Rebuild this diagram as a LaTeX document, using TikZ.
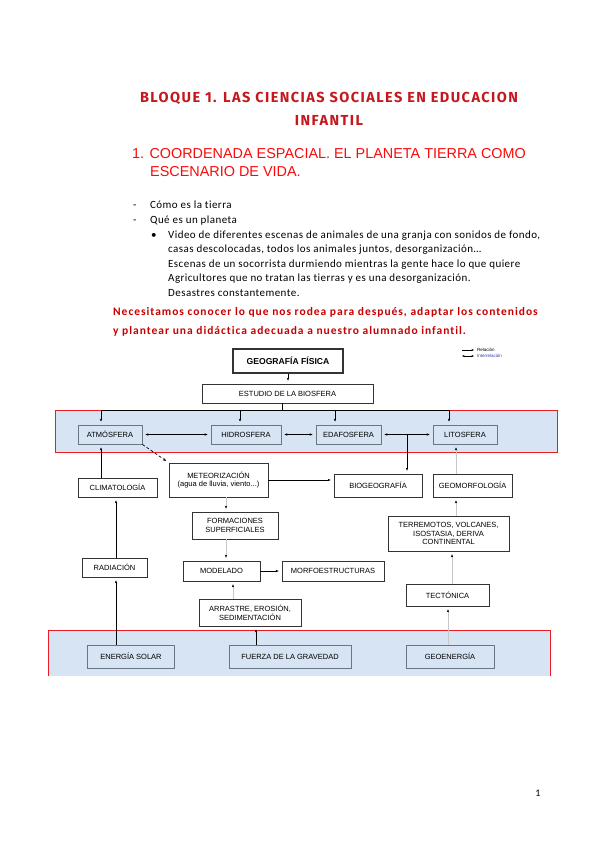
\documentclass[tikz,border=0pt]{standalone}
\usepackage{fontspec}
\setmainfont{Carlito}
\newfontfamily\bodyfont{Carlito}[LetterSpace=4,Ligatures=NoCommon]
\newfontfamily\notefont{Carlito}[LetterSpace=8.5,Ligatures=NoCommon]
\newfontfamily\titlefont{Fira Sans}[LetterSpace=10]
\newfontfamily\headfont{Liberation Sans}
\newfontfamily\diagfont{Liberation Sans}
\usetikzlibrary{arrows.meta,calc}
\definecolor{titlered}{RGB}{196,24,30}
\definecolor{headred}{RGB}{250,10,10}
\definecolor{notered}{RGB}{200,0,0}
\definecolor{bandblue}{RGB}{214,228,243}
\definecolor{bandred}{RGB}{236,28,36}
\definecolor{boxgray}{RGB}{105,118,132}
\definecolor{legblue}{RGB}{40,60,160}
\tikzset{
  box/.style={draw=black!80,line width=.7pt,fill=white,inner sep=1pt,align=center,
    font=\diagfont\fontsize{7.5}{8.6}\selectfont},
  bandbox/.style={box,draw=boxgray,fill=bandblue,line width=.8pt},
  rel/.style={-{Stealth[length=3pt,width=2.4pt]},line width=.7pt,shorten >=3pt},
  irel/.style={{Stealth[length=3pt,width=2.4pt]}-{Stealth[length=3pt,width=2.4pt]},line width=.7pt,shorten >=3pt,shorten <=3pt},
  grel/.style={-{Stealth[length=3pt,width=2.4pt,color=black]},draw=black!22,line width=.7pt,shorten >=3pt},
  band/.style={fill=bandblue},
  bandline/.style={draw=bandred,line width=1pt},
  body/.style={anchor=base west,inner sep=0,font=\bodyfont\fontsize{11}{13}\selectfont},
  note/.style={notered,anchor=base west,inner sep=0,font=\notefont\bfseries\fontsize{11.5}{13}\selectfont},
  head/.style={headred,anchor=base west,inner sep=0,font=\headfont\fontsize{14.4}{16}\selectfont},
  tit/.style={titlered,font=\titlefont\bfseries\fontsize{14.5}{17}\selectfont},
}
\begin{document}
\begin{tikzpicture}[x=1pt,y=-1pt]
\useasboundingbox[fill=white] (0,0) rectangle (599,848);
% texto
\node[tit] (tit1) at (329,98) {BLOQUE 1. LAS CIENCIAS SOCIALES EN EDUCACION};
\node[tit] (tit2) at (329,120) {INFANTIL};
\node[head] (sec1) at (132,158) {1. COORDENADA ESPACIAL. EL PLANETA TIERRA COMO};
\node[head] (sec2) at (150,176) {ESCENARIO DE VIDA.};
\node[body] (d1) at (133,208) {-};
\node[body] (l1) at (150,208) {Cómo es la tierra};
\node[body] (d2) at (133,223) {-};
\node[body] (l2) at (150,223) {Qué es un planeta};
\node[body] (bul) at (151,238) {•};
\node[body] (v1) at (168,238) {Video de diferentes escenas de animales de una granja con sonidos de fondo,};
\node[body] (v2) at (168,252.5) {casas descolocadas, todos los animales juntos, desorganización…};
\node[body] (v3) at (168,267) {Escenas de un socorrista durmiendo mientras la gente hace lo que quiere};
\node[body] (v4) at (168,281.5) {Agricultores que no tratan las tierras y es una desorganización.};
\node[body] (v5) at (168,296) {Desastres constantemente.};
\node[note] (n1) at (113,315) {Necesitamos conocer lo que nos rodea para después, adaptar los contenidos};
\node[note] (n2) at (113,334) {y plantear una didáctica adecuada a nuestro alumnado infantil.};
\node[font=\fontsize{10}{12}\selectfont] (pag) at (538,793) {1};
% franjas
\fill[band] (55,410) rectangle (557,452);
\draw[bandline] (55,410) rectangle (557,452);
\fill[band] (48,630) rectangle (550,676);
\draw[bandline] (48,676) -- (48,630) -- (550,630) -- (550,676);
% leyenda
\coordinate (lg1a) at (462,350); \coordinate (lg1b) at (474,350);
\coordinate (lg2a) at (462,356); \coordinate (lg2b) at (474,356);
\draw[-{Stealth[length=2.5pt,width=2pt]},line width=.6pt] (lg1a) -- (lg1b);
\draw[{Stealth[length=2.5pt,width=2pt]}-{Stealth[length=2.5pt,width=2pt]},line width=.6pt] (lg2a) -- (lg2b);
\node[anchor=west,inner sep=1pt,font=\diagfont\fontsize{4.5}{5}\selectfont] (lgr) at (476,349.5) {Relación};
\node[anchor=west,inner sep=1pt,text=legblue,font=\diagfont\fontsize{4.5}{5}\selectfont] (lgi) at (476,356) {Interrelación};
% cajas
\node[box,line width=1.1pt,minimum width=110,minimum height=24,font=\diagfont\bfseries\fontsize{8.6}{9}\selectfont] (geo) at (288,361) {GEOGRAFÍA FÍSICA};
\node[box,minimum width=171,minimum height=19] (est) at (287.5,393.5) {ESTUDIO DE LA BIOSFERA};
\node[bandbox,minimum width=64,minimum height=19] (atm) at (110,434.5) {ATMÓSFERA};
\node[bandbox,minimum width=70,minimum height=19] (hid) at (246,434.5) {HIDROSFERA};
\node[bandbox,minimum width=65,minimum height=19] (eda) at (348.5,434.5) {EDAFOSFERA};
\node[bandbox,minimum width=64,minimum height=19] (lit) at (465,434.5) {LITOSFERA};
\node[box,minimum width=79,minimum height=19] (cli) at (117.5,487.5) {CLIMATOLOGÍA};
\node[box,minimum width=99,minimum height=34] (met) at (218.5,480) {METEORIZACIÓN\\(agua de lluvia, viento...)};
\node[box,minimum width=88,minimum height=23] (bio) at (378,485.5) {BIOGEOGRAFÍA};
\node[box,minimum width=79,minimum height=23] (gmf) at (472.5,485.5) {GEOMORFOLOGÍA};
\node[box,minimum width=86,minimum height=27] (for) at (235,525.5) {FORMACIONES\\SUPERFICIALES};
\node[box,minimum width=121,minimum height=35] (ter) at (448.5,533.5) {TERREMOTOS, VOLCANES,\\ISOSTASIA, DERIVA\\CONTINENTAL};
\node[box,minimum width=65,minimum height=19] (rad) at (114.5,567.5) {RADIACIÓN};
\node[box,minimum width=77,minimum height=20] (mod) at (221.5,571) {MODELADO};
\node[box,minimum width=102,minimum height=20] (mor) at (333,571) {MORFOESTRUCTURAS};
\node[box,minimum width=83,minimum height=22] (tec) at (447.5,595) {TECTÓNICA};
\node[box,minimum width=102,minimum height=27] (arr) at (250,612.5) {ARRASTRE, EROSIÓN,\\SEDIMENTACIÓN};
\node[bandbox,minimum width=87,minimum height=23] (sol) at (131,656.5) {ENERGÍA SOLAR};
\node[bandbox,minimum width=122,minimum height=23] (gra) at (290,656.5) {FUERZA DE LA GRAVEDAD};
\node[bandbox,minimum width=88,minimum height=23] (gen) at (450,656.5) {GEOENERGÍA};
% conexiones
\coordinate (bus) at (282,410);
\draw[rel] (geo.south) -- (geo.south |- est.north);
\draw[line width=.7pt] (est.south -| bus) -- (bus);
\draw[line width=.7pt] (101,410) -- (449,410);
\foreach \n/\x in {atm/101,hid/240,eda/335,lit/449}
  \draw[rel] (\x,410) -- (\x,410 |- \n.north);
\draw[irel] (atm) -- (hid);
\draw[irel] (hid) -- (eda);
\draw[irel] (eda) -- (lit);
\coordinate (bif) at (407,434.5);
\draw[rel] (bif) -- (bif |- bio.north);
\draw[rel] (cli.north -| 101,0) -- (atm.south -| 101,0);
\draw[rel,densely dashed] (atm.south east) -- (met.north west);
\draw[rel] (met.east) -- (met.east -| bio.west);
\draw[grel] (gmf.north -| 456,0) -- (lit.south -| 456,0);
\draw[grel] (met.south -| 226,0) -- (for.north -| 226,0);
\draw[grel] (for.south -| 226,0) -- (mod.north -| 226,0);
\draw[rel] (mod) -- (mor);
\draw[grel] (arr.north -| 233,0) -- (mod.south -| 233,0);
\draw[rel] (rad.north -| 116,0) -- (cli.south -| 116,0);
\draw[rel] (sol.north -| 116,0) -- (rad.south -| 116,0);
\draw[rel] (gra.north -| 256,0) -- (arr.south -| 256,0);
\draw[grel] (ter.north -| 456,0) -- (gmf.south -| 456,0);
\draw[grel] (tec.north -| 452,0) -- (ter.south -| 452,0);
\draw[grel] (gen.north -| 448,0) -- (tec.south -| 448,0);
\end{tikzpicture}
\end{document}
